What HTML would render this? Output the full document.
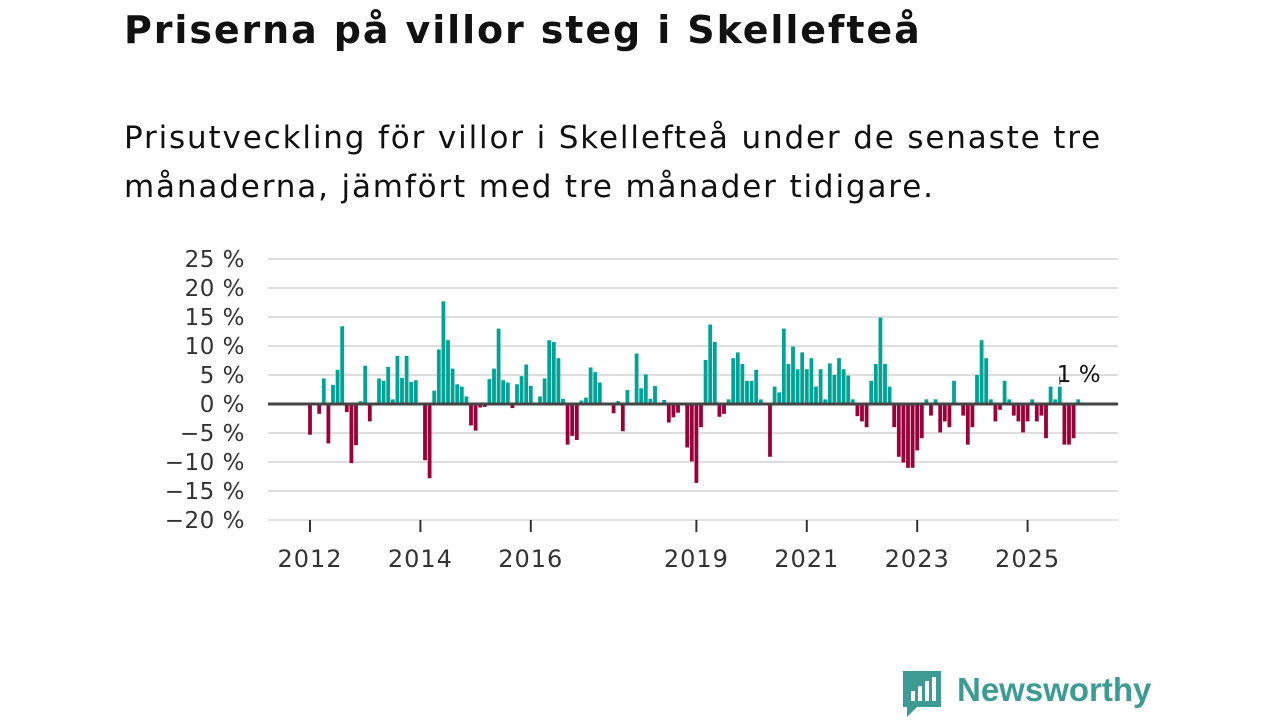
<!DOCTYPE html>
<html><head><meta charset="utf-8">
<style>
body{margin:0;width:1280px;height:720px;background:#fff;font-family:"DejaVu Sans","Liberation Sans",sans-serif;overflow:hidden;position:relative}
h1{position:absolute;left:124px;top:8px;margin:0;font-size:38px;font-weight:bold;color:#111;letter-spacing:1.9px;white-space:nowrap}
p.sub{position:absolute;left:124px;top:114px;margin:0;font-size:31px;line-height:49px;color:#111;white-space:nowrap;letter-spacing:1.85px}
svg{position:absolute;left:0;top:0}
</style></head><body>
<h1>Priserna på villor steg i Skellefteå</h1>
<p class="sub">Prisutveckling för villor i Skellefteå under de senaste tre<br>månaderna, jämfört med tre månader tidigare.</p>
<svg id="chart" width="1280" height="720"></svg>
<script>
const values=[-5.3,0,-1.7,4.4,-6.8,3.3,5.9,13.4,-1.4,-10.2,-7.1,0.5,6.6,-3.0,0,4.4,4.0,6.4,0.8,8.3,4.5,8.3,3.8,4.1,
0,-9.7,-12.8,2.3,9.4,17.7,11.0,6.1,3.4,3.0,1.3,-3.7,-4.6,-0.6,-0.5,4.3,6.1,13.0,4.1,3.7,-0.7,3.4,4.8,6.8,
3.1,0,1.3,4.4,11.0,10.7,7.9,0.9,-7.0,-5.5,-6.2,0.6,1.1,6.3,5.5,3.7,0,0,-1.6,0.5,-4.7,2.4,0,8.7,
2.7,5.1,0.9,3.1,0,0.7,-3.2,-2.3,-1.5,0,-7.5,-9.9,-13.6,-4.0,7.6,13.7,10.7,-2.2,-1.7,0.8,7.9,8.9,6.9,4.0,
4.0,5.9,0.8,0,-9.1,3.0,2.0,13.0,6.9,9.9,6.0,8.9,6.0,7.9,3.0,6.0,0.8,7.0,5.0,7.9,6.0,4.9,0.8,-2.1,
-3.0,-4.0,4.0,6.9,14.9,6.9,3.0,-4.0,-9.1,-10.1,-11.0,-11.0,-8.0,-5.9,0.8,-2.0,0.8,-4.9,-3.0,-4.0,4.0,0,-2.0,-7.0,
-4.0,5.0,11.0,7.9,0.8,-3.0,-1.0,4.0,0.8,-2.0,-3.0,-4.9,-3.0,0.8,-3.0,-2.0,-5.9,3.0,0.8,3.0,-7.0,-7.0,-5.9,0.8];
const startYear=2012;
const yTicks=[25,20,15,10,5,0,-5,-10,-15,-20];
const xTickYears=[2012,2014,2016,2019,2021,2023,2025];
const annotation={index:163,text:"1 %"};
const NS="http://www.w3.org/2000/svg",svg=document.getElementById('chart');
const y=v=>404-v*5.8;
const x=i=>310+i*4.6;
const xYear=yr=>x((yr-startYear)*12);
function mk(t,a){const e=document.createElementNS(NS,t);for(const k in a)e.setAttribute(k,a[k]);svg.appendChild(e);return e;}
yTicks.forEach(t=>{
  if(t!==0){const g=mk('line',{x1:268,x2:1118,y1:y(t),y2:y(t),stroke:'#dedede','stroke-width':2});
  
  }
  const l=mk('text',{x:245,y:y(t)+8,'text-anchor':'end','font-size':23,fill:'#333','letter-spacing':'0.5'});
  l.textContent=(t<0?'\u2212'+(-t):t)+' %';
  
  
});
values.forEach((v,i)=>{
  if(v===0)return;
  const b=mk('rect',{x:x(i)-1.9,width:3.8,y:Math.min(y(v),404),height:Math.abs(y(v)-404),fill:v>0?'#00a396':'#9b0039'});
  
  
});
const z=mk('line',{x1:268,x2:1118,y1:404,y2:404,stroke:'#444','stroke-width':3});


const ax=mk('line',{x1:268,x2:1118,y1:520,y2:520,stroke:'#e6e6e6','stroke-width':1});


xTickYears.forEach(yr=>{
  const tk=mk('line',{x1:xYear(yr),x2:xYear(yr),y1:520,y2:532,stroke:'#333','stroke-width':2});
  
  
  const l=mk('text',{x:xYear(yr),y:567,'text-anchor':'middle','font-size':24,fill:'#333','letter-spacing':'1'});
  l.textContent=yr;
  
  
});
const ax2=x(annotation.index);
const al=mk('line',{x1:ax2,x2:ax2,y1:y(values[annotation.index])-2,y2:y(values[annotation.index])-10,stroke:'#333','stroke-width':1});


const at=mk('text',{x:ax2-3,y:382,'font-size':23,fill:'#111'});
at.textContent=annotation.text;


</script>
<div style="position:absolute;left:903px;top:671px;width:250px;height:48px">
<svg width="40" height="48" style="position:absolute;left:0;top:0"><path d="M0 0h38v36H14L4 46V36H0z" fill="#3c9c94"/><rect x="8" y="20" width="4" height="10" fill="#fff"/><rect x="15" y="15" width="4" height="15" fill="#fff"/><rect x="22" y="10" width="4" height="20" fill="#fff"/><rect x="29" y="6" width="4" height="24" fill="#fff"/></svg>
<span style="position:absolute;left:54px;top:0;font-family:'Liberation Sans',sans-serif;font-size:33px;font-weight:bold;color:#3c9c94">Newsworthy</span>
</div>
</body></html>
